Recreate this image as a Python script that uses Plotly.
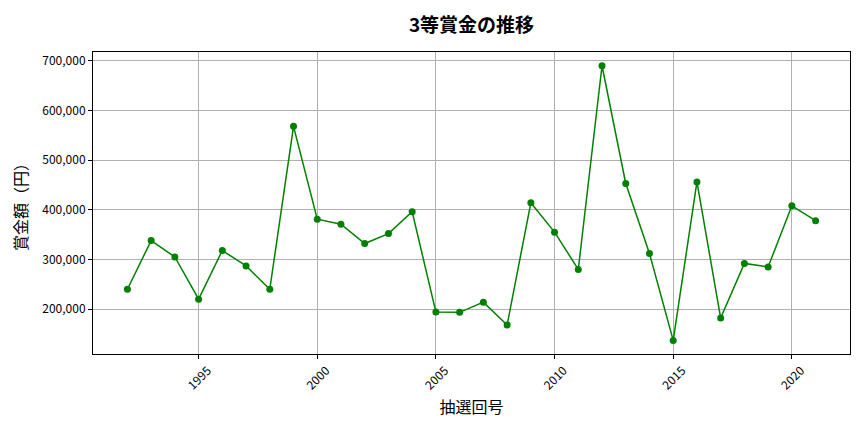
import plotly.graph_objects as go

years = list(range(1992, 2022))
prize = [240000, 338000, 305000, 220000, 318000, 287000, 240000, 568000,
         381000, 371000, 332000, 352000, 396000, 194000, 193500, 214000,
         168000, 414000, 355000, 280000, 690000, 453000, 312000, 137000,
         456000, 182000, 292000, 285000, 408000, 378000]
y_ticks = [200000, 300000, 400000, 500000, 600000, 700000]
y_tick_labels = ["200,000", "300,000", "400,000", "500,000", "600,000", "700,000"]
x_ticks = [1995, 2000, 2005, 2010, 2015, 2020]

FONT = "Noto Sans CJK JP"

fig = go.Figure()
fig.add_trace(go.Scatter(
    x=years, y=prize, mode="lines+markers",
    line=dict(color="#008000", width=1.5),
    marker=dict(color="#008000", size=7),
    showlegend=False,
))

fig.update_layout(
    width=856, height=424,
    margin=dict(l=85, r=14, t=44, b=78, autoexpand=False),
    paper_bgcolor="white", plot_bgcolor="white",
    font=dict(family=FONT, color="black", size=12),
    title=dict(text="<b>3等賞金の推移</b>", x=0.5, xref="paper", y=1 - 17 / 424,
               yref="container", xanchor="center", yanchor="middle",
               font=dict(family=FONT, size=19, color="black")),
)
fig.update_xaxes(
    range=[1990.55, 2022.45], tickvals=x_ticks, tickangle=-45,
    showgrid=True, gridcolor="#b0b0b0", gridwidth=1,
    showline=True, linecolor="black", linewidth=1, mirror=True,
    ticks="outside", ticklen=4, tickcolor="black",
    zeroline=False, automargin=False, ticklabelshift=9,
    title=dict(text="抽選回号", font=dict(family=FONT, size=16), standoff=10),
    tickfont=dict(family=FONT, size=12),
)
fig.update_yaxes(
    range=[109665, 717635], tickvals=y_ticks, ticktext=y_tick_labels,
    showgrid=True, gridcolor="#b0b0b0", gridwidth=1,
    showline=True, linecolor="black", linewidth=1, mirror=True,
    ticks="outside", ticklen=4, tickcolor="black",
    zeroline=False, automargin=False,
    title=dict(text="賞金額（円）", font=dict(family=FONT, size=16), standoff=14),
    tickfont=dict(family=FONT, size=12),
)

fig.write_html("out.html")
